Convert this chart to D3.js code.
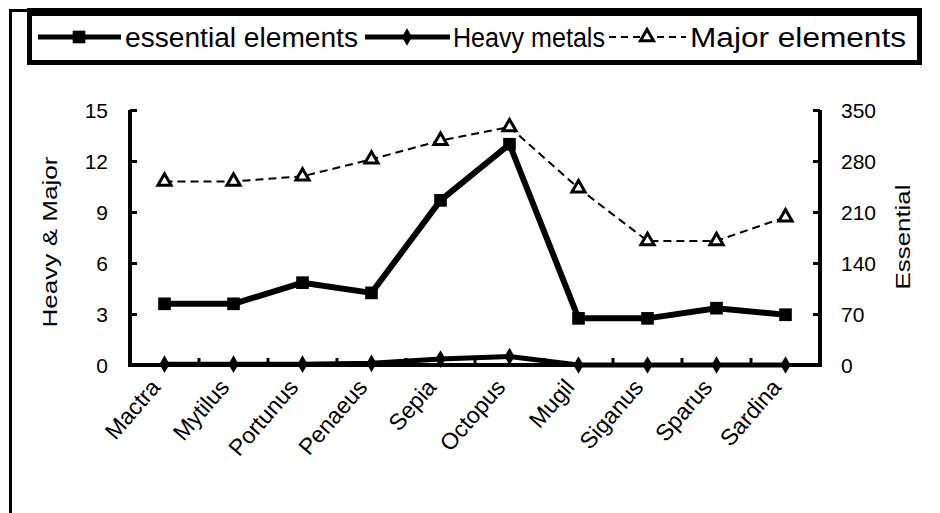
<!DOCTYPE html>
<html><head><meta charset="utf-8">
<script src="https://cdn.jsdelivr.net/npm/d3@7"></script>
<style>body{margin:0;background:#fff}svg{display:block}text{font-family:"Liberation Sans",Arial,sans-serif;fill:#000}</style>
</head><body><svg id="c" width="940" height="513"></svg>
<script>
const categories = ["Mactra","Mytilus","Portunus","Penaeus","Sepia","Octopus","Mugil","Siganus","Sparus","Sardina"];
const essential = [84, 84, 113, 99, 226, 303, 64, 64, 78, 69];      // right axis
const heavyMetals = [0.05, 0.05, 0.05, 0.1, 0.35, 0.5, 0, 0, 0, 0]; // left axis
const majorElements = [10.8, 10.8, 11.1, 12.1, 13.2, 14.0, 10.4, 7.3, 7.3, 8.7]; // left axis
const leftTicks = [0, 3, 6, 9, 12, 15];
const rightTicks = [0, 70, 140, 210, 280, 350];
const seriesNames = ["essential elements", "Heavy metals", "Major elements"];

const svg = d3.select("#c");
const L = 130, R = 820, T = 110, B = 365;
const x = d3.scaleBand().domain(categories).range([L, R]);
const cx = c => x(c) + x.bandwidth() / 2;
const yL = d3.scaleLinear().domain([0, 15]).range([B, T]);
const yR = d3.scaleLinear().domain([0, 350]).range([B, T]);

// outer frame
svg.append("path").attr("d", "M10.5,513 V10.5 H30").attr("fill", "none").attr("stroke", "#000").attr("stroke-width", 3);

// legend box
svg.append("rect").attr("x", 29.5).attr("y", 12.5).attr("width", 890).attr("height", 50)
  .attr("fill", "#fff").attr("stroke", "#000").attr("stroke-width", 5);
svg.append("rect").attr("x", 27).attr("y", 8).attr("width", 895).attr("height", 8).attr("fill", "#000");

// axes
const gl = svg.append("g").attr("transform", `translate(${L},0)`)
  .call(d3.axisRight(yL).tickValues(leftTicks).tickSize(7).tickFormat(""));
const gr = svg.append("g").attr("transform", `translate(${R},0)`)
  .call(d3.axisLeft(yR).tickValues(rightTicks).tickSize(7).tickFormat(""));
[gl, gr].forEach(g => {
  g.select(".domain").remove();
  g.selectAll(".tick line").attr("stroke", "#000").attr("stroke-width", 3);
});
// category boundary ticks
svg.append("g").selectAll("line").data(categories.slice(1)).join("line")
  .attr("x1", d => x(d)).attr("x2", d => x(d)).attr("y1", B).attr("y2", B - 7)
  .attr("stroke", "#000").attr("stroke-width", 3);
// axis lines
svg.append("path").attr("d", `M${L},${T} V${B} H${R} V${T}`).attr("fill", "none")
  .attr("stroke", "#000").attr("stroke-width", 4).attr("stroke-linejoin", "miter");

// tick labels
svg.append("g").selectAll("text").data(leftTicks).join("text")
  .attr("x", 108).attr("y", d => yL(d) + 8).attr("text-anchor", "end")
  .attr("font-size", 21).text(d => d);
svg.append("g").selectAll("text").data(rightTicks).join("text")
  .attr("x", 841).attr("y", d => yR(d) + 8).attr("text-anchor", "start")
  .attr("font-size", 21).text(d => d);

// category labels
svg.append("g").selectAll("text").data(categories).join("text")
  .attr("transform", d => `translate(${cx(d) - 3},${B + 23}) rotate(-49)`)
  .attr("text-anchor", "end").attr("font-size", 23).text(d => d);

// axis titles
svg.append("text").attr("transform", "translate(57,242) rotate(-90)").attr("text-anchor", "middle")
  .attr("font-size", 21).attr("textLength", 171).attr("lengthAdjust", "spacingAndGlyphs").text("Heavy & Major");
svg.append("text").attr("transform", "translate(910,237) rotate(-90)").attr("text-anchor", "middle")
  .attr("font-size", 21).attr("textLength", 105).attr("lengthAdjust", "spacingAndGlyphs").text("Essential");

// series
const lineL = d3.line().x((d, i) => cx(categories[i])).y(d => yL(d));
const lineR = d3.line().x((d, i) => cx(categories[i])).y(d => yR(d));

svg.append("path").datum(majorElements).attr("d", lineL).attr("fill", "none")
  .attr("stroke", "#000").attr("stroke-width", 2).attr("stroke-dasharray", "8,5");
svg.append("path").datum(heavyMetals).attr("d", lineL).attr("fill", "none")
  .attr("stroke", "#000").attr("stroke-width", 5);
svg.append("path").datum(essential).attr("d", lineR).attr("fill", "none")
  .attr("stroke", "#000").attr("stroke-width", 6).attr("stroke-linejoin", "round");

const sq = d3.symbol().type(d3.symbolSquare).size(160);
const dm = d3.symbol().type(d3.symbolDiamond).size(90);
const tr = d3.symbol().type(d3.symbolTriangle).size(75);

svg.append("g").selectAll("path").data(essential).join("path")
  .attr("d", sq).attr("transform", (d, i) => `translate(${cx(categories[i])},${yR(d)})`).attr("fill", "#000");
svg.append("g").selectAll("path").data(heavyMetals).join("path")
  .attr("d", dm).attr("transform", (d, i) => `translate(${cx(categories[i])},${yL(d)})`).attr("fill", "#000");
svg.append("g").selectAll("path").data(majorElements).join("path")
  .attr("d", tr).attr("transform", (d, i) => `translate(${cx(categories[i])},${yL(d)})`)
  .attr("fill", "#fff").attr("stroke", "#000").attr("stroke-width", 3);

// legend
const ly = 37;
const lg = svg.append("g");
lg.append("line").attr("x1", 38).attr("x2", 121).attr("y1", ly).attr("y2", ly).attr("stroke", "#000").attr("stroke-width", 5);
lg.append("path").attr("d", sq).attr("transform", `translate(79,${ly})`).attr("fill", "#000");
lg.append("text").attr("x", 125).attr("y", ly + 10).attr("font-size", 27).attr("textLength", 233)
  .attr("lengthAdjust", "spacingAndGlyphs").text(seriesNames[0]);
lg.append("line").attr("x1", 365).attr("x2", 450).attr("y1", ly).attr("y2", ly).attr("stroke", "#000").attr("stroke-width", 5);
lg.append("path").attr("d", dm).attr("transform", `translate(407,${ly})`).attr("fill", "#000");
lg.append("text").attr("x", 453).attr("y", ly + 10).attr("font-size", 27).attr("textLength", 152)
  .attr("lengthAdjust", "spacingAndGlyphs").text(seriesNames[1]);
lg.append("line").attr("x1", 609).attr("x2", 686).attr("y1", ly).attr("y2", ly).attr("stroke", "#000").attr("stroke-width", 2).attr("stroke-dasharray", "7,5");
lg.append("path").attr("d", tr).attr("transform", `translate(647,${ly})`).attr("fill", "#fff").attr("stroke", "#000").attr("stroke-width", 3);
lg.append("text").attr("x", 690).attr("y", ly + 10).attr("font-size", 27).attr("textLength", 216)
  .attr("lengthAdjust", "spacingAndGlyphs").text(seriesNames[2]);
</script></body></html>
